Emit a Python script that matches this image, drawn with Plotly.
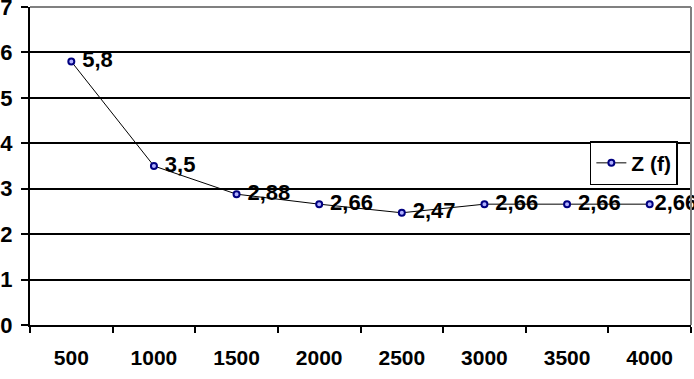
import plotly.graph_objects as go

categories = ["500", "1000", "1500", "2000", "2500", "3000", "3500", "4000"]
z_values = [5.8, 3.5, 2.88, 2.66, 2.47, 2.66, 2.66, 2.66]
series_name = "Z (f)"

# decimal comma labels; the last one sits tight against the right edge
labels = [str(v).replace(".", ",") for v in z_values]
labels = [" " + t for t in labels[:-1]] + [labels[-1]]

FONT = "Liberation Sans, Arial"

fig = go.Figure()
fig.add_trace(go.Scatter(
    x=categories, y=z_values, name=series_name,
    mode="lines+markers+text",
    text=labels, textposition="middle right",
    textfont=dict(family=FONT, size=22, color="black", weight="bold"),
    line=dict(color="black", width=1),
    marker=dict(symbol="circle", size=6, color="#b0b0ff", line=dict(color="#000080", width=2)),
    cliponaxis=False,
))

fig.update_layout(
    width=694, height=379,
    margin=dict(l=30, r=3, t=7, b=54, autoexpand=False),
    paper_bgcolor="white", plot_bgcolor="white",
    font=dict(family=FONT, size=21, color="black", weight="bold"),
    showlegend=True,
    legend=dict(x=0.847, y=0.578, xanchor="left", yanchor="top",
                bordercolor="black", borderwidth=1.5, bgcolor="white",
                font=dict(family=FONT, size=21, weight="bold"),
                itemwidth=30, tracegroupgap=0),
    xaxis=dict(type="category", range=[-0.5, 7.5], showgrid=False, automargin=False,
               showline=True, linecolor="black", linewidth=2,
               ticks="outside", tickson="boundaries", ticklen=6, tickwidth=2, tickcolor="black",
               ticklabelstandoff=13, tickfont=dict(family=FONT, size=21, weight="bold")),
    yaxis=dict(range=[0, 7.0001], tickvals=[0, 1, 2, 3, 4, 5, 6, 7], showgrid=True,
               automargin=False,
               gridcolor="black", gridwidth=1.5,
               showline=True, linecolor="black", linewidth=2,
               ticks="outside", ticklen=7, tickwidth=2, tickcolor="black",
               ticklabelstandoff=4, ticklabeloverflow="allow",
               zeroline=False, tickfont=dict(family=FONT, size=22, weight="bold")),
    shapes=[
        dict(type="line", xref="paper", yref="paper", x0=0, x1=1, y0=1, y1=1,
             line=dict(color="#808080", width=2)),
        dict(type="line", xref="paper", yref="paper", x0=1, x1=1, y0=0, y1=1,
             line=dict(color="#808080", width=2)),
    ],
)

fig.write_html("out.html")
